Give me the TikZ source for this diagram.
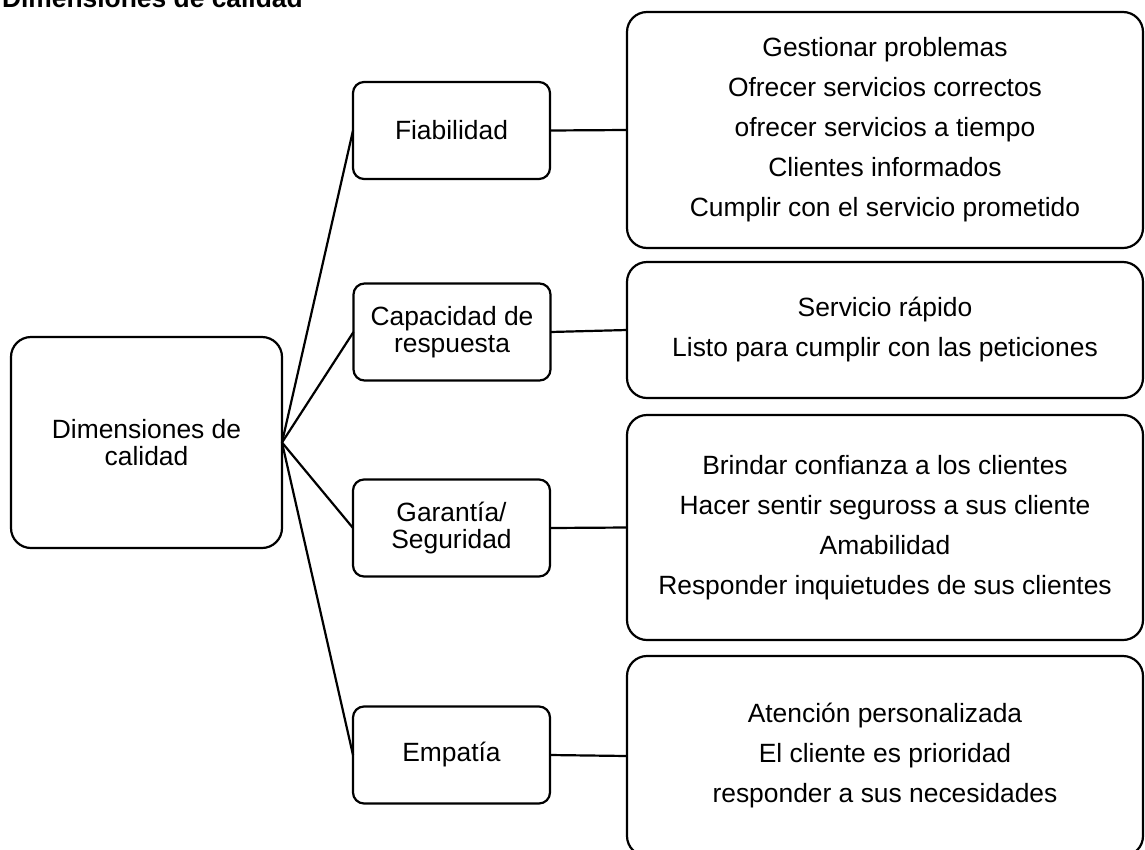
\documentclass[tikz,border=0pt]{standalone}
\usepackage{fontspec}
\setmainfont{Liberation Sans}
\begin{document}
\begin{tikzpicture}[x=1pt,y=-1pt,
  every node/.style={inner sep=0pt, outer sep=0pt},
  box/.style={draw=black, line width=2.2pt, fill=white, align=center, anchor=center},
  rootbox/.style={box, rounded corners=20pt, font=\fontsize{26.4}{27}\selectfont},
  midbox/.style={box, rounded corners=11pt, minimum width=197pt, minimum height=97pt, font=\fontsize{26.4}{26.5}\selectfont},
  detailbox/.style={box, rounded corners=20pt, minimum width=516pt, font=\fontsize{26.4}{40}\selectfont},
  link/.style={draw=black, line width=2.2pt}]
\useasboundingbox (0,0) rectangle (1145,849);

% heading, partly cut off by the top edge
\node[anchor=base west, font=\fontsize{26.4}{30}\selectfont\bfseries] (title) at (2,7) {Dimensiones de calidad};

% central concept
\node[rootbox, minimum width=271pt, minimum height=211pt] (root) at (146.5,442.5) {Dimensiones de\\calidad};

% the four dimensions
\node[midbox] (fia) at (451.5,130.5) {Fiabilidad};
\node[midbox] (cap) at (452,332) {Capacidad de\\respuesta};
\node[midbox] (gar) at (451.5,528) {Garantía/\\Seguridad};
\node[midbox] (emp) at (451.5,755) {Empatía};

% what each dimension covers
\node[detailbox, minimum height=236pt] (d1) at (885,130) {Gestionar problemas\\Ofrecer servicios correctos\\ofrecer servicios a tiempo\\Clientes informados\\Cumplir con el servicio prometido};
\node[detailbox, minimum height=136pt] (d2) at (885,330) {Servicio rápido\\Listo para cumplir con las peticiones};
\node[detailbox, minimum height=225pt] (d3) at (885,527.5) {Brindar confianza a los clientes\\Hacer sentir seguross a sus cliente\\Amabilidad\\Responder inquietudes de sus clientes};
\node[detailbox, minimum height=200pt] (d4) at (885,756) {Atención personalizada\\El cliente es prioridad\\responder a sus necesidades};

% connectors
\foreach \m in {fia,cap,gar,emp} \draw[link] (root.east) -- (\m.west);
\draw[link] (fia.east) -- (d1.west);
\draw[link] (cap.east) -- (d2.west);
\draw[link] (gar.east) -- (d3.west);
\draw[link] (emp.east) -- (d4.west);
\end{tikzpicture}
\end{document}
